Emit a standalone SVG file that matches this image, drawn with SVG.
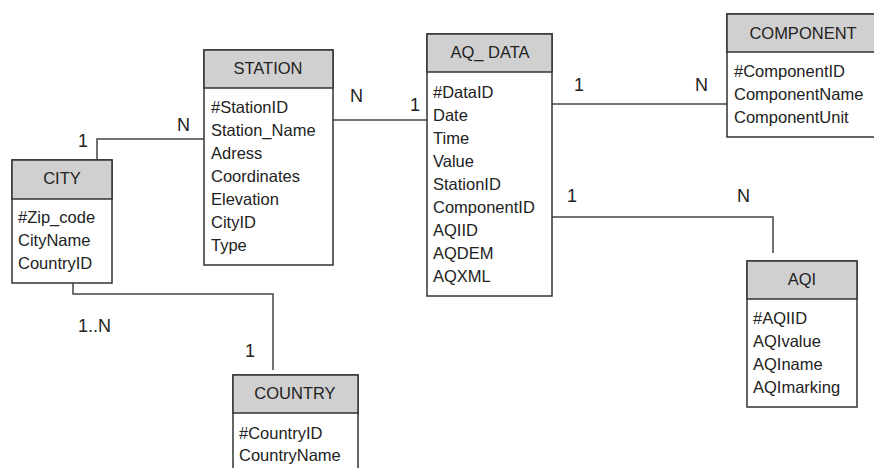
<svg xmlns="http://www.w3.org/2000/svg" width="874" height="468" viewBox="0 0 874 468">
<style>
.box{fill:#fff;stroke:#333;stroke-width:1.5}
.hdr{fill:#d0d0d0;stroke:#333;stroke-width:1.5}
.t{font-family:"Liberation Sans",Arial,sans-serif;font-size:16.5px;fill:#222}
.h{font-family:"Liberation Sans",Arial,sans-serif;font-size:16.5px;fill:#222;text-anchor:middle}
.c{font-family:"Liberation Sans",Arial,sans-serif;font-size:18px;fill:#222}
.ln{fill:none;stroke:#444;stroke-width:1.5}
</style>
<rect width="874" height="468" fill="#fff"/>
<g id="connectors">
<path class="ln" d="M97,160 V139 H204"/>
<path class="ln" d="M333,120 H427"/>
<path class="ln" d="M548,104 H727"/>
<path class="ln" d="M552,217 H773 V253"/>
<path class="ln" d="M73,283 V294 H273 V370"/>
<text class="c" x="78" y="147">1</text>
<text class="c" x="177" y="131">N</text>
<text class="c" x="350" y="102">N</text>
<text class="c" x="410" y="111">1</text>
<text class="c" x="574" y="91">1</text>
<text class="c" x="695" y="91">N</text>
<text class="c" x="567" y="202">1</text>
<text class="c" x="737" y="202">N</text>
<text class="c" x="78" y="332">1..N</text>
<text class="c" x="245" y="357">1</text>
</g>
<g id="city">
<rect class="box" x="12" y="160" width="100" height="123"/>
<rect class="hdr" x="12" y="160" width="100" height="39"/>
<text class="h" x="62" y="184">CITY</text>
<text class="t" x="18" y="223">#Zip_code</text>
<text class="t" x="18" y="246">CityName</text>
<text class="t" x="18" y="269">CountryID</text>
</g>
<g id="station">
<rect class="box" x="204" y="50" width="129" height="215"/>
<rect class="hdr" x="204" y="50" width="129" height="38"/>
<text class="h" x="268" y="74">STATION</text>
<text class="t" x="211" y="113">#StationID</text>
<text class="t" x="211" y="136">Station_Name</text>
<text class="t" x="211" y="159">Adress</text>
<text class="t" x="211" y="182">Coordinates</text>
<text class="t" x="211" y="205">Elevation</text>
<text class="t" x="211" y="228">CityID</text>
<text class="t" x="211" y="251">Type</text>
</g>
<g id="aq_data">
<rect class="box" x="427" y="34" width="125" height="262"/>
<rect class="hdr" x="427" y="34" width="125" height="38"/>
<text class="h" x="490" y="58">AQ_ DATA</text>
<text class="t" x="433" y="98">#DataID</text>
<text class="t" x="433" y="121">Date</text>
<text class="t" x="433" y="144">Time</text>
<text class="t" x="433" y="167">Value</text>
<text class="t" x="433" y="190">StationID</text>
<text class="t" x="433" y="213">ComponentID</text>
<text class="t" x="433" y="236">AQIID</text>
<text class="t" x="433" y="259">AQDEM</text>
<text class="t" x="433" y="282">AQXML</text>
</g>
<g id="component">
<rect class="box" x="727" y="14" width="160" height="123"/>
<rect class="hdr" x="727" y="14" width="160" height="38"/>
<text class="h" x="803" y="39">COMPONENT</text>
<text class="t" x="734" y="77">#ComponentID</text>
<text class="t" x="734" y="100">ComponentName</text>
<text class="t" x="734" y="123">ComponentUnit</text>
</g>
<g id="aqi">
<rect class="box" x="747" y="261" width="110" height="146"/>
<rect class="hdr" x="747" y="261" width="110" height="38"/>
<text class="h" x="802" y="285">AQI</text>
<text class="t" x="753" y="324">#AQIID</text>
<text class="t" x="753" y="347">AQIvalue</text>
<text class="t" x="753" y="370">AQIname</text>
<text class="t" x="753" y="393">AQImarking</text>
</g>
<g id="country">
<rect class="box" x="233" y="375" width="125" height="120"/>
<rect class="hdr" x="233" y="375" width="125" height="38"/>
<text class="h" x="295" y="399">COUNTRY</text>
<text class="t" x="239" y="439">#CountryID</text>
<text class="t" x="239" y="461">CountryName</text>
</g>
</svg>
